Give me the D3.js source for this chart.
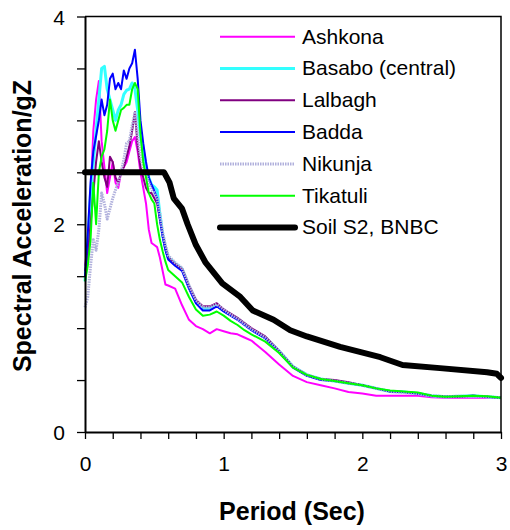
<!DOCTYPE html>
<html>
<head>
<meta charset="utf-8">
<script src="https://cdn.jsdelivr.net/npm/d3@7"></script>
<style>
  body { margin: 0; background: #fff; }
  svg text { font-family: "Liberation Sans", Arial, sans-serif; }
</style>
</head>
<body>
<div id="frame"></div>
<script>
// period values (sec) shared by the recorded spectra
let periods = [0, 0.02, 0.04, 0.06, 0.08, 0.10, 0.12, 0.14, 0.16, 0.18, 0.20, 0.22, 0.24, 0.26, 0.28, 0.30,
    0.32, 0.34, 0.36, 0.38, 0.40, 0.42, 0.44, 0.46, 0.48, 0.50, 0.52, 0.54, 0.56, 0.58, 0.60,
    0.65, 0.70, 0.75, 0.80, 0.85, 0.90, 0.95, 1.00, 1.05, 1.10, 1.15, 1.20,
    1.3, 1.4, 1.5, 1.6, 1.7, 1.8, 1.9, 2.0, 2.1, 2.2, 2.3, 2.4, 2.5, 2.6, 2.7, 2.8, 2.9, 3.0];

let ashkona = [1.6, 1.8, 2.25, 2.9, 3.2, 3.38, 2.8, 2.55, 2.3, 2.45, 2.6, 2.4, 2.35, 2.5, 2.55, 2.6,
    2.7, 2.8, 2.84, 2.7, 2.5, 2.35, 2.2, 1.95, 1.82, 1.8, 1.78, 1.68, 1.55, 1.42, 1.41,
    1.38, 1.22, 1.08, 1.02, 0.99, 0.95, 0.99, 0.97, 0.95, 0.94, 0.91, 0.88,
    0.77, 0.65, 0.54, 0.48, 0.45, 0.42, 0.385, 0.37, 0.35, 0.35, 0.35, 0.35, 0.335, 0.33, 0.33, 0.33, 0.33, 0.33];

let basabo = [1.45, 1.8, 2.3, 2.6, 2.9, 3.2, 3.5, 3.52, 3.3, 3.2, 3.1, 3.0, 3.1, 3.15, 3.25, 3.29,
    3.3, 3.36, 3.3, 3.1, 2.85, 2.7, 2.55, 2.45, 2.38, 2.36, 2.33, 2.1, 1.9, 1.78, 1.68,
    1.62, 1.57, 1.40, 1.26, 1.19, 1.19, 1.22, 1.17, 1.13, 1.09, 1.04, 0.99,
    0.91, 0.78, 0.63, 0.55, 0.51, 0.49, 0.47, 0.45, 0.42, 0.39, 0.385, 0.37, 0.35, 0.34, 0.345, 0.35, 0.34, 0.33];

let lalbagh = [1.55, 1.7, 2.0, 2.3, 2.6, 2.8, 2.6, 2.45, 2.36, 2.65, 2.6, 2.45, 2.4, 2.5, 2.55, 2.65,
    2.75, 2.9, 3.08, 2.75, 2.55, 2.45, 2.35, 2.3, 2.3, 2.25, 2.2, 2.05, 1.9, 1.78, 1.68,
    1.62, 1.57, 1.41, 1.27, 1.21, 1.21, 1.24, 1.18, 1.14, 1.10, 1.05, 1.0,
    0.92, 0.78, 0.63, 0.55, 0.51, 0.50, 0.48, 0.45, 0.42, 0.39, 0.385, 0.37, 0.35, 0.34, 0.34, 0.35, 0.34, 0.33];

let badda = [1.5, 1.9, 2.4, 2.7, 2.85, 3.0, 3.2, 3.05, 3.15, 3.4, 3.45, 3.3, 3.36, 3.3, 3.48, 3.4,
    3.5, 3.55, 3.68, 3.4, 3.0, 2.78, 2.6, 2.45, 2.38, 2.32, 2.25, 2.05, 1.88, 1.75, 1.66,
    1.60, 1.55, 1.38, 1.24, 1.17, 1.17, 1.21, 1.16, 1.12, 1.08, 1.03, 0.98,
    0.90, 0.77, 0.62, 0.54, 0.50, 0.49, 0.47, 0.45, 0.42, 0.39, 0.385, 0.37, 0.35, 0.34, 0.345, 0.35, 0.34, 0.33];

let nikunja = [1.2, 1.3, 1.6, 1.85, 1.75, 1.95, 2.3, 2.2, 2.05, 2.15, 2.25, 2.33, 2.4, 2.5, 2.62, 2.78,
    2.8, 2.95, 3.07, 2.85, 2.65, 2.55, 2.49, 2.4, 2.33, 2.3, 2.25, 2.1, 1.92, 1.8, 1.7,
    1.63, 1.58, 1.41, 1.27, 1.20, 1.20, 1.23, 1.18, 1.13, 1.09, 1.04, 0.99,
    0.91, 0.78, 0.63, 0.55, 0.51, 0.49, 0.47, 0.45, 0.42, 0.39, 0.38, 0.37, 0.35, 0.34, 0.345, 0.345, 0.34, 0.33];

let tikatuli = [1.45, 1.6, 1.85, 2.4, 2.0, 2.5, 2.65, 2.72, 2.9, 3.2, 3.0, 2.9, 3.0, 3.1, 3.12, 3.15,
    3.15, 3.3, 3.36, 3.3, 2.87, 2.6, 2.45, 2.3, 2.24, 2.2, 2.0, 1.85, 1.74, 1.64, 1.56,
    1.5, 1.44, 1.30, 1.18, 1.12, 1.13, 1.16, 1.12, 1.07, 1.03, 0.98, 0.94,
    0.87, 0.76, 0.62, 0.55, 0.51, 0.49, 0.47, 0.45, 0.42, 0.40, 0.39, 0.38, 0.35, 0.34, 0.345, 0.35, 0.345, 0.33];

// code spectrum (BNBC, soil S2)
let soilPeriods = [0, 0.57, 0.61, 0.64, 0.70, 0.74, 0.80, 0.87, 0.99, 1.12, 1.21, 1.36, 1.48, 1.60, 1.84, 2.13, 2.29, 2.56, 2.90, 2.97, 3.0];
let soilSa = [2.5, 2.5, 2.4, 2.25, 2.15, 2.0, 1.8, 1.63, 1.43, 1.30, 1.17, 1.08, 0.98, 0.92, 0.82, 0.72, 0.645, 0.615, 0.575, 0.56, 0.52];

let seriesNames = ['Ashkona', 'Basabo (central)', 'Lalbagh', 'Badda', 'Nikunja', 'Tikatuli', 'Soil S2, BNBC'];
let xTicks = [0, 1, 2, 3];
let yTicks = [0, 2, 4];

let styles = [
    { color: '#ff00ff', width: 2 },
    { color: '#33ffff', width: 3 },
    { color: '#800080', width: 2 },
    { color: '#0000ff', width: 2 },
    { color: '#b0b0dc', width: 3, dash: '1.5,1' },
    { color: '#00ff00', width: 2 },
    { color: '#000000', width: 6 }
];

let W = 510, H = 530;
let margin = { top: 16.5, right: 9, bottom: 98, left: 85 },
    width = W - margin.left - margin.right,
    height = H - margin.top - margin.bottom;

let x = d3.scaleLinear().domain([0, 3]).range([0, width]);
let y = d3.scaleLinear().domain([0, 4]).range([height, 0]);

let svg = d3.select('#frame').append('svg')
    .attr('width', W).attr('height', H)
    .append('g')
    .attr('transform', 'translate(' + margin.left + ',' + margin.top + ')');

let allSeries = [ashkona, basabo, lalbagh, badda, nikunja, tikatuli].map(vals => vals.map((v, i) => [periods[i], v]));
allSeries.push(soilPeriods.map((t, i) => [t, soilSa[i]]));

let line = d3.line().x(d => x(d[0])).y(d => y(d[1]));

svg.selectAll('path.series')
    .data(allSeries)
    .enter()
    .append('path')
    .attr('class', 'series')
    .attr('d', line)
    .attr('fill', 'none')
    .attr('stroke', (d, i) => styles[i].color)
    .attr('stroke-width', (d, i) => styles[i].width)
    .attr('stroke-dasharray', (d, i) => styles[i].dash || null)
    .attr('stroke-linejoin', 'round')
    .attr('stroke-linecap', (d, i) => i === 6 ? 'round' : 'butt');

// frame (top and right)
svg.append('path')
    .attr('d', 'M0,0H' + width + 'V' + height)
    .attr('fill', 'none')
    .attr('stroke', '#000')
    .attr('stroke-width', 1.5);

// minor ticks
let yMinor = d3.range(0, 4.01, 0.5);
let xMinor = d3.range(0, 3.01, 0.2);

let yAxis = svg.append('g')
    .call(d3.axisLeft(y).tickValues(yMinor).tickSize(8).tickSizeOuter(0)
        .tickFormat(d => yTicks.includes(d) ? d : ''));
let xAxis = svg.append('g')
    .attr('transform', 'translate(0,' + height + ')')
    .call(d3.axisBottom(x).tickValues(xMinor).tickSize(7).tickSizeOuter(0)
        .tickFormat(d => xTicks.some(t => Math.abs(t - d) < 1e-6) ? Math.round(d) : ''));

[yAxis, xAxis].forEach(ax => {
    ax.select('.domain').attr('stroke-width', 2);
    ax.selectAll('.tick line').attr('stroke-width', 1.3);
    ax.selectAll('text')
        .attr('fill', '#000')
        .style('font-size', '21px')
        .style('font-family', '"Liberation Sans", Arial, sans-serif');
});
yAxis.selectAll('text').attr('x', -20).attr('dy', '0.36em');
xAxis.selectAll('text').attr('y', 24).attr('dy', '0.71em');

// legend
let legend = svg.append('g').attr('transform', 'translate(' + (220 - margin.left) + ',' + (36.7 - margin.top) + ')');
seriesNames.forEach((name, i) => {
    let gy = i * 31.8;
    legend.append('line')
        .attr('x1', 0).attr('x2', 75)
        .attr('y1', gy).attr('y2', gy)
        .attr('stroke', styles[i].color)
        .attr('stroke-width', i === 6 ? 6 : styles[i].width)
        .attr('stroke-dasharray', styles[i].dash || null)
        .attr('stroke-linecap', i === 6 ? 'round' : 'butt');
    legend.append('text')
        .attr('x', 82).attr('y', gy + 7)
        .style('font-size', '21px')
        .text(name);
});

// axis titles
svg.append('text')
    .attr('x', width / 2 - 1)
    .attr('y', height + 88)
    .attr('text-anchor', 'middle')
    .style('font-size', '25px')
    .style('font-weight', 'bold')
    .text('Period (Sec)');

svg.append('text')
    .attr('transform', 'translate(' + (31 - margin.left) + ',' + (226 - margin.top) + ') rotate(-90)')
    .attr('text-anchor', 'middle')
    .style('font-size', '25px')
    .style('font-weight', 'bold')
    .text('Spectral Acceleration/gZ');
</script>
</body>
</html>
